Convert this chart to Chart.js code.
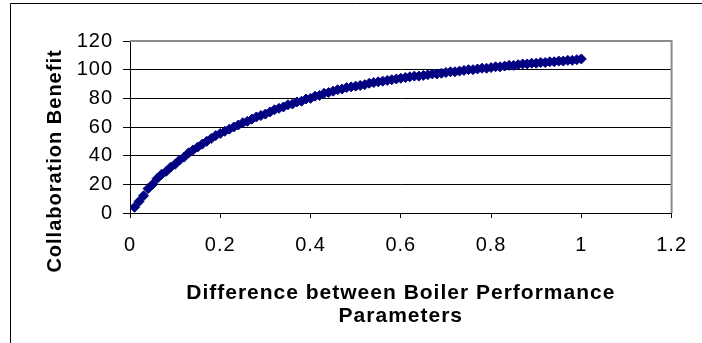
<!DOCTYPE html>
<html>
<head>
<meta charset="utf-8">
<title>Collaboration Benefit</title>
<script src="https://cdn.jsdelivr.net/npm/chart.js@4.4.1/dist/chart.umd.min.js"></script>
<style>
  html, body { margin: 0; padding: 0; background: #fff; }
  #chartBox { width: 702px; height: 343px; }
</style>
</head>
<body>
<div id="chartBox"><canvas id="benefitChart" width="702" height="343"></canvas></div>
<script>
const differenceValues = [
  0.01, 0.02, 0.03, 0.04, 0.05, 0.06, 0.07, 0.08, 0.09, 0.10,
  0.11, 0.12, 0.13, 0.14, 0.15, 0.16, 0.17, 0.18, 0.19, 0.20,
  0.21, 0.22, 0.23, 0.24, 0.25, 0.26, 0.27, 0.28, 0.29, 0.30,
  0.31, 0.32, 0.33, 0.34, 0.35, 0.36, 0.37, 0.38, 0.39, 0.40,
  0.41, 0.42, 0.43, 0.44, 0.45, 0.46, 0.47, 0.48, 0.49, 0.50,
  0.51, 0.52, 0.53, 0.54, 0.55, 0.56, 0.57, 0.58, 0.59, 0.60,
  0.61, 0.62, 0.63, 0.64, 0.65, 0.66, 0.67, 0.68, 0.69, 0.70,
  0.71, 0.72, 0.73, 0.74, 0.75, 0.76, 0.77, 0.78, 0.79, 0.80,
  0.81, 0.82, 0.83, 0.84, 0.85, 0.86, 0.87, 0.88, 0.89, 0.90,
  0.91, 0.92, 0.93, 0.94, 0.95, 0.96, 0.97, 0.98, 0.99, 1.00
];
const benefitValues = [
  4, 8, 12, 17, 20, 24, 27, 29, 32, 34,
  37, 39, 42, 44, 46, 48, 50, 52, 54, 55.5,
  57, 58.5, 60, 61.4, 63, 64, 65.5, 67, 68, 69,
  70.5, 72, 73, 74, 75.5, 76, 77.5, 78, 79.5, 80,
  81.5, 82, 83.5, 84, 85, 86, 86.5, 87.5, 88, 88.5,
  89, 89.5, 90.5, 91, 91.5, 92, 92.5, 93, 93.5, 94,
  94.5, 95, 95.5, 95.5, 96, 96.5, 97, 97, 97.5, 98,
  98.5, 98.5, 99, 99.5, 100, 100, 100.5, 101, 101, 101.5,
  102, 102, 102.5, 103, 103, 103.5, 104, 104, 104.5, 104.5,
  105, 105, 105.5, 105.5, 106, 106, 106.5, 106.5, 107, 107.5
];
const xTicks = [0, 0.2, 0.4, 0.6, 0.8, 1, 1.2];
const yTicks = [0, 20, 40, 60, 80, 100, 120];
const xTitleLines = ["Difference between Boiler Performance", "Parameters"];
const yTitle = "Collaboration Benefit";

const FONT = "Arial, 'Liberation Sans', sans-serif";
const MARKER_COLOR = "#000080";

const points = differenceValues.map((x, i) => ({ x, y: benefitValues[i] }));

// outer frame, y title and the grey top/right edge of the plot area
const framePlugin = {
  id: "frame",
  beforeLayout(chart) {
    chart.ctx.letterSpacing = "1px";
  },
  beforeDraw(chart) {
    const ctx = chart.ctx;
    ctx.letterSpacing = "1px";
    ctx.save();
    ctx.strokeStyle = "#000";
    ctx.lineWidth = 1;
    ctx.beginPath();
    ctx.moveTo(10.5, chart.height);
    ctx.lineTo(10.5, 3.5);
    ctx.lineTo(chart.width, 3.5);
    ctx.stroke();

    ctx.translate(55, 161);
    ctx.rotate(-Math.PI / 2);
    ctx.font = "bold 20px " + FONT;
    ctx.fillStyle = "#000";
    ctx.textAlign = "center";
    ctx.textBaseline = "middle";
    ctx.fillText(yTitle, 0, 0);
    ctx.restore();
  },
  beforeDatasetsDraw(chart) {
    const { ctx, chartArea } = chart;
    ctx.save();
    ctx.strokeStyle = "#8c8c8c";
    ctx.lineWidth = 2;
    ctx.beginPath();
    ctx.moveTo(chartArea.left, chartArea.top);
    ctx.lineTo(chartArea.right, chartArea.top);
    ctx.lineTo(chartArea.right, chartArea.bottom);
    ctx.stroke();
    ctx.restore();
  }
};

new Chart(document.getElementById("benefitChart"), {
  type: "scatter",
  data: {
    datasets: [
      {
        label: yTitle,
        data: points,
        pointStyle: "rectRot",
        pointRadius: 5,
        backgroundColor: MARKER_COLOR,
        borderColor: MARKER_COLOR,
        borderWidth: 1,
        showLine: false
      }
    ]
  },
  options: {
    responsive: false,
    animation: false,
    layout: {
      padding: { left: 0, top: 41, right: 23, bottom: 0 }
    },
    plugins: {
      legend: { display: false },
      tooltip: { enabled: false }
    },
    scales: {
      x: {
        type: "linear",
        position: "bottom",
        min: xTicks[0],
        max: xTicks[xTicks.length - 1],
        afterFit: (scale) => { scale.height = 130; },
        ticks: {
          stepSize: xTicks[1] - xTicks[0],
          color: "#000",
          padding: 15,
          font: { family: FONT, size: 20 },
          callback: (value) => String(Math.round(value * 10) / 10)
        },
        grid: {
          drawOnChartArea: false,
          drawTicks: true,
          tickLength: 5,
          color: "#000"
        },
        border: { color: "#000", width: 1 },
        title: {
          display: true,
          text: xTitleLines,
          color: "#000",
          font: { family: FONT, size: 21, weight: "bold", lineHeight: "23.5px" },
          padding: { top: 0, bottom: 15 }
        }
      },
      y: {
        min: yTicks[0],
        max: yTicks[yTicks.length - 1],
        afterFit: (scale) => { scale.width = 130; },
        ticks: {
          stepSize: yTicks[1] - yTicks[0],
          color: "#000",
          padding: 10,
          font: { family: FONT, size: 20 }
        },
        grid: {
          color: "#000",
          lineWidth: 1,
          drawTicks: true,
          tickLength: 7
        },
        border: { color: "#000", width: 1 }
      }
    }
  },
  plugins: [framePlugin]
});
</script>
</body>
</html>
